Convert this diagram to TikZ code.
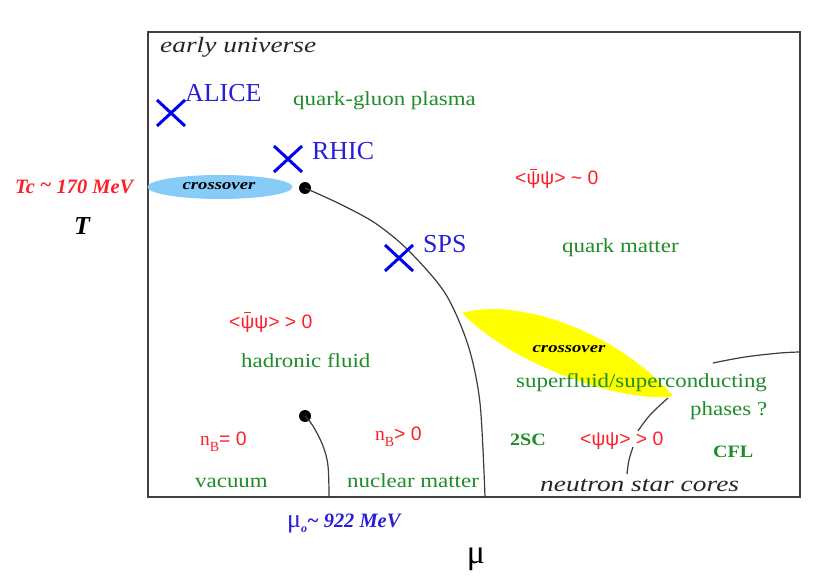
\documentclass[tikz,border=0pt]{standalone}
\usepackage{fontspec}
\setmainfont{Liberation Serif}
\newfontfamily\gfont[FakeStretch=1.15]{Liberation Serif}
\newfontfamily\ifont[FakeStretch=1.25]{Liberation Serif}
\newfontfamily\sfont{Liberation Sans}
\usetikzlibrary{shapes.misc}
\definecolor{qgreen}{RGB}{30,140,40}
\definecolor{qred}{RGB}{255,30,40}
\definecolor{qblue}{RGB}{40,30,215}
\definecolor{xblue}{RGB}{0,0,240}
\definecolor{ellblue}{RGB}{135,204,248}
\definecolor{qyellow}{RGB}{255,255,0}
\definecolor{lineg}{RGB}{60,60,60}
\newcommand\psibar{\setbox0\hbox{ψ}\rlap{\hbox to\wd0{\hss\raisebox{0.78em}{\rule{0.36em}{0.06em}}\hss}}\box0}
\newcommand\nsubB{{\rmfamily n}\raisebox{-0.35em}{\fontsize{14}{15}\selectfont\rmfamily B}}
\tikzset{
  lbl/.style={inner sep=0pt, anchor=base west},
  grn/.style={lbl, text=qgreen, font=\gfont\fontsize{20}{24}\selectfont},
  grnb/.style={lbl, text=qgreen, font=\gfont\bfseries\fontsize{17.5}{20}\selectfont},
  redt/.style={lbl, text=qred, font=\sfont\fontsize{19.5}{22}\selectfont},
  blul/.style={lbl, text=qblue, font=\rmfamily\fontsize{26}{30}\selectfont},
  itl/.style={lbl, text=black!85, font=\ifont\itshape\fontsize{22}{26}\selectfont},
  cross/.style={inner sep=0pt, anchor=base, font=\ifont\bfseries\itshape\fontsize{15}{17}\selectfont},
  xmark/.style={cross out, draw=xblue, line width=3bp, minimum width=25bp, minimum height=23bp, inner sep=0pt},
  dot/.style={circle, fill=black, inner sep=0pt, minimum size=12bp},
  boundary/.style={draw=lineg, line width=1.2bp},
}
\begin{document}
\begin{tikzpicture}[x=1bp,y=-1bp]
\useasboundingbox (0,0) rectangle (830,580);
% frame
\draw[draw=black!75, line width=1.5bp] (148,32) rectangle (800,497);
% crossover regions
\fill[ellblue] (220,187) ellipse [x radius=72.5, y radius=12];
\fill[qyellow] (462,313) .. controls (510,298) and (610,325) .. (673,396)
  .. controls (635,404) and (520,372) .. cycle;
% phase boundaries
\node[dot] (cp) at (305,188) {};
\node[dot] (nm) at (305,416) {};
\draw[boundary] plot[smooth, tension=0.5] coordinates {(305,188) (340,204) (375,223) (408,250) (445,293) (468,345) (480,403) (485,497)};
\draw[boundary] plot[smooth, tension=0.6] coordinates {(305,416) (313,426) (323,446) (328,466) (329,497)};
\draw[boundary] plot[smooth, tension=0.6] coordinates {(800,352) (780,353) (745,357) (713,363)};
\draw[boundary] plot[smooth, tension=0.6] coordinates {(668,398) (650,415) (638,431)};
\draw[boundary] plot[smooth, tension=0.6] coordinates {(633,447) (629,460) (627,474)};
% experiments
\node[xmark] (alice) at (171,113) {};
\node[xmark] (rhic) at (288,159) {};
\node[xmark] (sps) at (399,258) {};
\node[blul] (alicel) at (185,101.5) {ALICE};
\node[blul] (rhicl) at (312,160) {RHIC};
\node[blul] (spsl) at (423,252) {SPS};
% labels
\node[itl] (early) at (160,52.5) {early universe};
\node[grn] (qgp) at (293,106) {quark-gluon plasma};
\node[cross] (co1) at (219,189.5) {crossover};
\node[cross] (co2) at (569,352) {crossover};
\node[lbl, text=qred, font=\rmfamily\bfseries\itshape\fontsize{20.5}{24}\selectfont] (tc) at (15,194) {Tc \raisebox{0.1em}{\textasciitilde} 170 MeV};
\node[inner sep=0pt, anchor=base, font=\rmfamily\bfseries\itshape\fontsize{26}{30}\selectfont] (T) at (82,235) {T};
\node[redt] (cond0) at (515,185) {<\psibar ψ> \textasciitilde{} 0};
\node[grn] (qm) at (562,252) {quark matter};
\node[redt] (condp) at (229,328.5) {<\psibar ψ> > 0};
\node[grn] (hf) at (241,367) {hadronic fluid};
\node[grn] (sf) at (516,387) {superfluid/superconducting};
\node[grn] (ph) at (690,415) {phases ?};
\node[grnb] (cfl) at (713,457) {CFL};
\node[grnb] (tsc) at (510,445) {2SC};
\node[redt] (dq) at (580,445) {<ψψ> > 0};
\node[itl] (nsc) at (540,491) {neutron star cores};
\node[redt] (nb0) at (200,445) {\nsubB= 0};
\node[redt] (nbp) at (375,440) {\nsubB> 0};
\node[grn] (vac) at (195,487.5) {vacuum};
\node[grn] (nuc) at (347,487.5) {nuclear matter};
\node[lbl, text=qblue, font=\rmfamily\bfseries\itshape\fontsize{20.5}{24}\selectfont] (mu0) at (287,527) {{\mdseries\upshape\fontsize{26}{28}\selectfont μ}\raisebox{-0.25em}{\fontsize{12}{13}\selectfont o}\textasciitilde{} 922 MeV};
\node[inner sep=0pt, anchor=base, font=\rmfamily\fontsize{34}{38}\selectfont] (mu) at (476,563) {μ};
\end{tikzpicture}
\end{document}
